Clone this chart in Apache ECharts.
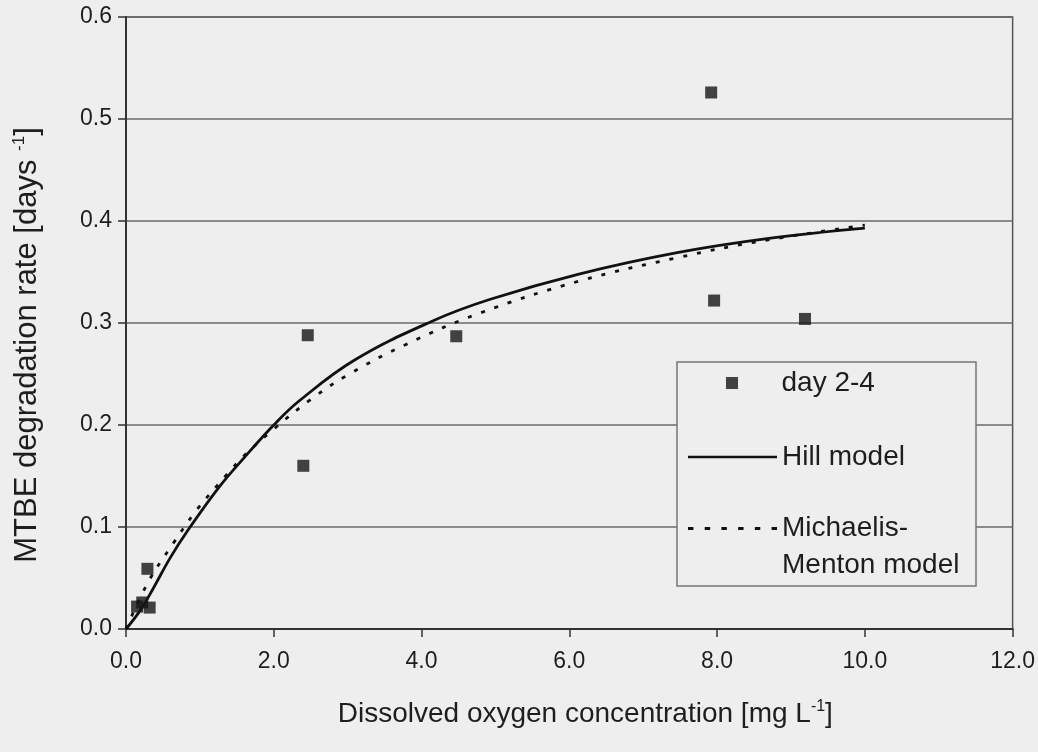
<!DOCTYPE html>
<html><head><meta charset="utf-8">
<script src="https://cdn.jsdelivr.net/npm/echarts@6/dist/echarts.min.js"></script>
<style>html,body{margin:0;padding:0;background:#eeeeee}#c{width:1038px;height:752px}</style>
</head><body><div id="c"></div>
<script>
// ---- data ----
const obsX = [0.15, 0.22, 0.32, 0.29, 2.40, 2.46, 4.47, 7.92, 7.96, 9.19];
const obsY = [0.022, 0.026, 0.021, 0.059, 0.160, 0.288, 0.287, 0.526, 0.322, 0.304];

const hillX = [0, 0.2, 0.37, 0.6, 0.84, 1.27, 1.6, 2.0, 2.35, 3.1, 4.15, 4.92, 6.13, 7.46, 8.7, 10];
const hillY = [0, 0.019, 0.040, 0.070, 0.097, 0.140, 0.168, 0.200, 0.224, 0.264, 0.302, 0.323, 0.348, 0.369, 0.383, 0.393];

const mmX = [0, 0.3, 0.64, 0.95, 1.36, 1.6, 2.0, 2.5, 3.0, 3.79, 4.8, 6.13, 7.46, 8.57, 10];
const mmY = [0, 0.046, 0.084, 0.116, 0.151, 0.170, 0.196, 0.225, 0.249, 0.279, 0.310, 0.341, 0.364, 0.380, 0.396];

const xTickLabels = ['0.0', '2.0', '4.0', '6.0', '8.0', '10.0', '12.0'];
const yTickLabels = ['0.0', '0.1', '0.2', '0.3', '0.4', '0.5', '0.6'];

const seriesNames = ['day 2-4', 'Hill model', 'Michaelis-\nMenton model'];

// ---- chart ----
const zip = (xs, ys) => xs.map((x, i) => [x, ys[i]]);
const FONT = "'Liberation Sans', Arial, sans-serif";
const chart = echarts.init(document.getElementById('c'), null, {renderer: 'canvas'});

const legendBase = {
  orient: 'vertical', padding: 0, itemWidth: 89, itemHeight: 12, selectedMode: false,
  textStyle: {fontFamily: FONT, fontSize: 28, color: '#1e1e1e', lineHeight: 32}
};
const solidIcon = 'path://M0 0H89V2.6H0Z';
const dashIcon = 'path://M0 0H5V2.6H0Z M15.4 0H20.4V2.6H15.4Z M30.8 0H35.8V2.6H30.8Z M46.2 0H51.2V2.6H46.2Z M61.6 0H66.6V2.6H61.6Z M77 0H82V2.6H77Z';

chart.setOption({
  backgroundColor: '#eeeeee',
  animation: false,
  grid: {left: 126, right: 22, top: 17, bottom: 123, show: true, borderColor: '#555', borderWidth: 1.5, backgroundColor: 'transparent'},
  xAxis: {
    type: 'value', min: 0, max: 12, interval: 2,
    name: 'Dissolved oxygen concentration [mg L{sup|-1}]',
    nameLocation: 'middle', nameGap: 70,
    nameTextStyle: {fontFamily: FONT, fontSize: 28, color: '#1e1e1e', padding: [0, 0, 0, 32],
      rich: {sup: {fontFamily: FONT, fontSize: 16, padding: [0, 0, 15, 0], color: '#1e1e1e'}}},
    axisLine: {lineStyle: {color: '#333', width: 2}},
    axisTick: {show: true, length: 8, lineStyle: {color: '#333', width: 1.5}},
    axisLabel: {fontFamily: FONT, fontSize: 23, color: '#1e1e1e', margin: 21,
      formatter: (v) => xTickLabels[Math.round(v / 2)]},
    splitLine: {show: false}
  },
  yAxis: {
    type: 'value', min: 0, max: 0.6, interval: 0.1,
    name: 'MTBE degradation rate [days {sup|-1}]',
    nameLocation: 'middle', nameGap: 82, nameRotate: 90,
    nameTextStyle: {fontFamily: FONT, fontSize: 31, color: '#1e1e1e', padding: [0, 44, 0, 0],
      rich: {sup: {fontFamily: FONT, fontSize: 17, padding: [0, 0, 16, 0], color: '#1e1e1e'}}},
    axisLine: {show: true, lineStyle: {color: '#333', width: 2}},
    axisTick: {show: true, length: 8, lineStyle: {color: '#333', width: 1.5}},
    axisLabel: {fontFamily: FONT, fontSize: 23, color: '#1e1e1e', margin: 14,
      formatter: (v) => yTickLabels[Math.round(v * 10)]},
    splitLine: {show: true, lineStyle: {color: '#6a6a6a', width: 1.5}}
  },
  legend: [
    Object.assign({}, legendBase, {left: 726, top: 367,
      data: [{name: seriesNames[0], icon: 'path://M0 0H10V10H0Z'}]}),
    Object.assign({}, legendBase, {left: 688, top: 441,
      data: [{name: seriesNames[1], icon: solidIcon}]}),
    Object.assign({}, legendBase, {left: 688, top: 473,
      textStyle: {fontFamily: FONT, fontSize: 28, color: '#1e1e1e', lineHeight: 37},
      formatter: (name) => '\n' + name,
      data: [{name: seriesNames[2], icon: dashIcon}]})
  ],
  graphic: [{
    type: 'rect', z: 3, silent: true,
    shape: {x: 677, y: 362, width: 299, height: 224},
    style: {fill: '#eeeeee', stroke: '#777', lineWidth: 1.5}
  }],
  series: [
    {
      name: seriesNames[0], type: 'scatter', symbol: 'rect', symbolSize: 12,
      itemStyle: {color: '#151515'}, z: 5,
      data: zip(obsX, obsY)
    },
    {
      name: seriesNames[1], type: 'line', showSymbol: false, symbol: 'none',
      smooth: 0.4,
      lineStyle: {color: '#111', width: 2.8}, itemStyle: {color: '#111'},
      data: zip(hillX, hillY)
    },
    {
      name: seriesNames[2], type: 'line', showSymbol: false, symbol: 'none',
      smooth: 0.4,
      lineStyle: {color: '#111', width: 2.8, type: [4, 10]}, itemStyle: {color: '#111'},
      data: zip(mmX, mmY)
    }
  ]
});
</script></body></html>
